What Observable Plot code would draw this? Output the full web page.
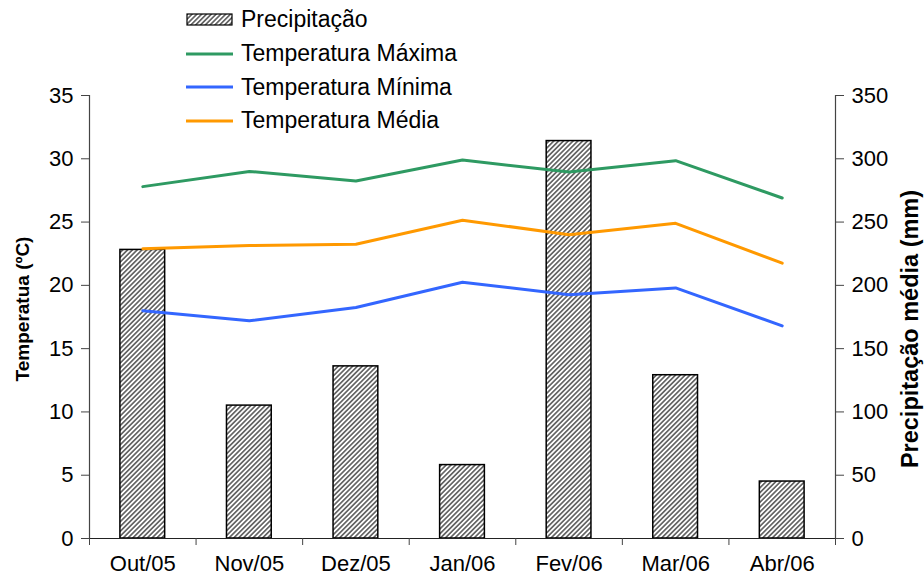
<!DOCTYPE html>
<html>
<head>
<meta charset="utf-8">
<script src="https://cdn.jsdelivr.net/npm/d3@7"></script>
<script src="https://cdn.jsdelivr.net/npm/@observablehq/plot@0.6"></script>
<style>
  body { margin: 0; background: #fff; font-family: "Liberation Sans", Arial, Helvetica, sans-serif; }
  #wrap { position: relative; width: 924px; height: 578px; }
  #legend { position: absolute; left: 186px; top: 3px; font-size: 23px; color: #000; }
  .row { display: flex; align-items: center; height: 33.7px; }
  .row svg { margin-right: 8px; flex: none; }
</style>
</head>
<body>
<div id="wrap">
  <div id="chart"></div>
  <div id="legend"></div>
</div>
<script>
// Monthly climate data, Oct/2005 – Apr/2006
const months = ["Out/05", "Nov/05", "Dez/05", "Jan/06", "Fev/06", "Mar/06", "Abr/06"];
const precip = [228, 105, 136, 58, 314, 129, 45];          // mm
const tMax = [27.8, 29.0, 28.25, 29.9, 28.95, 29.85, 26.9];   // ºC
const tMin = [18.0, 17.2, 18.25, 20.25, 19.25, 19.8, 16.8];   // ºC
const tMed = [22.9, 23.15, 23.25, 25.15, 24.0, 24.9, 21.75];  // ºC
const tempTicks = [0, 5, 10, 15, 20, 25, 30, 35];
const precipPerDegree = 10; // right axis: 0–350 mm over 0–35 ºC

const series = [
  {name: "Temperatura Máxima", values: tMax, color: "#2e9a62"},
  {name: "Temperatura Mínima", values: tMin, color: "#3366ff"},
  {name: "Temperatura Média", values: tMed, color: "#ff9900"}
];

const idx = d3.range(months.length);
const bounds = d3.range(months.length + 1).map(i => i - 0.5);
const xDomain = [bounds[0], bounds[bounds.length - 1]];
const halfBar = 0.21;
const font = "'Liberation Sans', Arial, Helvetica, sans-serif";

const chart = Plot.plot({
  width: 924,
  height: 578,
  marginLeft: 89,
  marginRight: 89,
  marginTop: 95,
  marginBottom: 40,
  style: {fontFamily: font, fontSize: "22px", color: "#000", background: "#fff", overflow: "visible"},
  x: {domain: xDomain},
  y: {domain: [0, 35]},
  marks: [
    Plot.rect(idx, {
      x1: i => i - halfBar,
      x2: i => i + halfBar,
      y1: 0,
      y2: i => precip[i] / precipPerDegree,
      fill: "url(#hatch)",
      stroke: "#000",
      strokeWidth: 1.5
    }),
    ...series.map(s => Plot.lineY(idx, {
      x: i => i,
      y: i => s.values[i],
      stroke: s.color,
      strokeWidth: 3
    })),
    Plot.ruleY([0], {stroke: "#222", strokeWidth: 1.2}),
    Plot.ruleX(xDomain, {stroke: "#444", strokeWidth: 1.2}),
    Plot.axisY({anchor: "left", ticks: tempTicks, tickSize: 8, tickPadding: 8, label: null, stroke: "#444"}),
    Plot.axisY({anchor: "right", ticks: tempTicks, tickSize: 8, tickPadding: 8, label: null, stroke: "#444",
                tickFormat: d => d * precipPerDegree}),
    Plot.axisX({ticks: bounds, tickSize: 7, tickFormat: () => "", label: null, stroke: "#444"}),
    Plot.axisX({ticks: idx, tickSize: 0, tickPadding: 17, tickFormat: i => months[i], label: null}),
    Plot.text(["Temperatua (ºC)"], {frameAnchor: "left", dx: -67, dy: -8, rotate: -90, textAnchor: "middle",
                                    fontWeight: "bold", fontSize: 19, fill: "#000"}),
    Plot.text(["Precipitação média (mm)"], {frameAnchor: "right", dx: 75, dy: 12, rotate: -90, textAnchor: "middle",
                                            fontWeight: "bold", fontSize: 23.5, fill: "#000"})
  ]
});

// diagonal hatch used by the precipitation bars
const hatchDefs = document.createElementNS("http://www.w3.org/2000/svg", "defs");
hatchDefs.innerHTML =
  `<pattern id="hatch" patternUnits="userSpaceOnUse" width="3.4" height="3.4" patternTransform="rotate(45)">
     <rect width="3.4" height="3.4" fill="#fff"/>
     <line x1="1.7" y1="0" x2="1.7" y2="3.4" stroke="#444" stroke-width="1.4"/>
   </pattern>`;
chart.prepend(hatchDefs);
document.getElementById("chart").append(chart);

// legend
const legend = document.getElementById("legend");
const swatch = (draw) => {
  const s = d3.create("svg").attr("width", 47).attr("height", 14);
  draw(s);
  return s.node();
};
const addRow = (sw, label) => {
  const row = document.createElement("div");
  row.className = "row";
  row.append(sw);
  const t = document.createElement("span");
  t.textContent = label;
  row.append(t);
  legend.append(row);
};
addRow(swatch(s => s.append("rect").attr("x", 1).attr("y", 1).attr("width", 45).attr("height", 11)
  .attr("fill", "url(#hatch)").attr("stroke", "#000").attr("stroke-width", 1.2)), "Precipitação");
series.forEach(ser => addRow(swatch(s => s.append("line").attr("x1", 0).attr("x2", 47)
  .attr("y1", 7).attr("y2", 7).attr("stroke", ser.color).attr("stroke-width", 3)), ser.name));
</script>
</body>
</html>
